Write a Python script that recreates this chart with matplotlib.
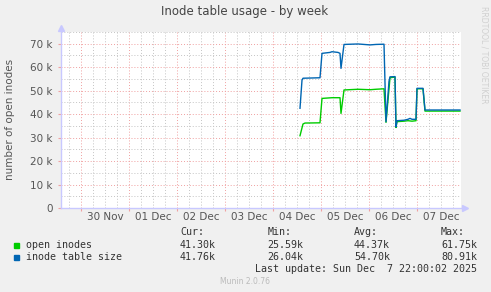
import numpy as np
import matplotlib

matplotlib.use("Agg")
import matplotlib.pyplot as plt

# hours since 2025-12-04 00:00, values in thousands
blue_hours = [13.5, 14.5, 15.0, 23.5, 24.5, 28.5, 29.5, 32.5, 33.5, 34.0, 35.5, 42.5,
              48.5, 51.5, 55.5, 56.5, 58.0, 58.5, 61.0, 61.5, 62.0, 65.5, 67.5, 68.5,
              69.5, 71.5, 72.0, 75.0, 76.0, 93.5]
blue_vals = [42.5, 54.5, 55.3, 55.5, 65.9, 66.3, 66.6, 66.3, 65.9, 59.5, 69.7, 69.9,
             69.5, 69.7, 69.8, 36.8, 54.0, 55.9, 56.0, 34.6, 37.2, 37.4, 37.8, 38.2,
             37.8, 37.8, 51.0, 51.0, 41.76, 41.76]
green_hours = [13.5, 15.0, 16.0, 23.5, 24.5, 29.5, 33.5, 34.0, 35.5, 42.5, 48.5, 51.5,
               55.5, 56.5, 58.5, 61.0, 61.5, 62.0, 65.5, 67.5, 69.5, 71.5, 72.0, 75.0,
               76.0, 93.5]
green_vals = [30.8, 35.8, 36.2, 36.3, 46.7, 47.0, 47.0, 40.3, 50.3, 50.6, 50.4, 50.6,
              50.8, 36.5, 55.5, 55.8, 34.3, 36.8, 37.0, 37.2, 37.0, 37.2, 50.8, 50.8,
              41.3, 41.3]

day_labels = ["30 Nov", "01 Dec", "02 Dec", "03 Dec", "04 Dec", "05 Dec", "06 Dec", "07 Dec"]
y_ticks = [0, 10000, 20000, 30000, 40000, 50000, 60000, 70000]
y_labels = ["0", "10 k", "20 k", "30 k", "40 k", "50 k", "60 k", "70 k"]

series_names = ["open inodes", "inode table size"]
series_colors = ["#00CC00", "#0066B3"]
stat_cur = ["41.30k", "41.76k"]
stat_min = ["25.59k", "26.04k"]
stat_avg = ["44.37k", "54.70k"]
stat_max = ["61.75k", "80.91k"]

W, H = 491, 292
BG = "#F0F0F0"
TXT = "#333333"
LBL = "#555555"


def px(x, y):
    return x / W, 1 - y / H


fig = plt.figure(figsize=(W / 100, H / 100), dpi=100, facecolor=BG)
ax = fig.add_axes([61 / W, 1 - 208 / H, 400 / W, 176 / H])
ax.set_facecolor("white")

x0, x1 = -106, 94
ax.set_xlim(x0, x1)
ax.set_ylim(0, 75000)

# grid
dots = (0, (1, 2))
day_pos = np.arange(-96, 94, 24)
for h in np.arange(-102, 94, 6):
    if h % 24:
        ax.axvline(h, color="#C4C4C4", lw=0.7, ls=dots, zorder=0)
for d in day_pos:
    ax.axvline(d, color="#F0A0A0", lw=0.7, ls=dots, zorder=0)
for v in np.arange(5000, 80000, 10000):
    ax.axhline(v, color="#C4C4C4", lw=0.7, ls=dots, zorder=0)
for v in y_ticks[1:]:
    ax.axhline(v, color="#F0A0A0", lw=0.7, ls=dots, zorder=0)

ax.plot(green_hours, np.array(green_vals) * 1000, color=series_colors[0], lw=1.0)
ax.plot(blue_hours, np.array(blue_vals) * 1000, color=series_colors[1], lw=1.0)

for s in ["top", "right"]:
    ax.spines[s].set_visible(False)
for s in ["left", "bottom"]:
    ax.spines[s].set_color("#C8C8FF")
    ax.spines[s].set_linewidth(1)
ax.plot([0], [1.025], marker="^", color="#C8C8FF", ms=4, transform=ax.transAxes, clip_on=False)
ax.plot([1.01], [0], marker=">", color="#C8C8FF", ms=4, transform=ax.transAxes, clip_on=False)

ax.set_xticks(day_pos)
ax.set_xticklabels([])
ax.tick_params(axis="x", which="major", length=2, color="#F0A0A0")
ax.set_xticks(day_pos + 12, day_labels, minor=True)
ax.tick_params(axis="x", which="minor", length=0, pad=3, labelsize=7.5, labelcolor=LBL)
ax.set_yticks(y_ticks, y_labels)
ax.tick_params(axis="y", length=2, color="#F0A0A0", pad=4, labelsize=7.5, labelcolor=LBL)

fig.text(*px(245, 11), "Inode table usage - by week", ha="center", va="center",
         fontsize=8.5, color="#444444")
fig.text(*px(10, 119), "number of open inodes", rotation=90, ha="center", va="center",
         fontsize=7.5, color=LBL)
fig.text(*px(484, 55), "RRDTOOL / TOBI OETIKER", rotation=270, ha="center", va="center",
         fontsize=5.5, color="#D0D0D0")

mono = dict(family="DejaVu Sans Mono", fontsize=7.2, color=TXT, va="center")
cols = [180, 267.3, 354, 441]
for x, head in zip(cols, ["Cur:", "Min:", "Avg:", "Max:"]):
    fig.text(*px(x, 232), head, ha="left", **mono)
for i, y in enumerate([245, 257]):
    fig.patches.append(plt.Rectangle(px(14, y + 2.5), 5 / W, 5 / H, color=series_colors[i],
                                     transform=fig.transFigure))
    fig.text(*px(26, y), series_names[i], ha="left", **mono)
    for x, val in zip(cols, [stat_cur[i], stat_min[i], stat_avg[i], stat_max[i]]):
        fig.text(*px(x, y), val, ha="left", **mono)
fig.text(*px(477, 269), "Last update: Sun Dec  7 22:00:02 2025", ha="right", **mono)
fig.text(*px(245, 281), "Munin 2.0.76", ha="center", va="center", fontsize=5.5, color="#BBBBBB")

fig.savefig("out.png", dpi=100, facecolor=BG)
